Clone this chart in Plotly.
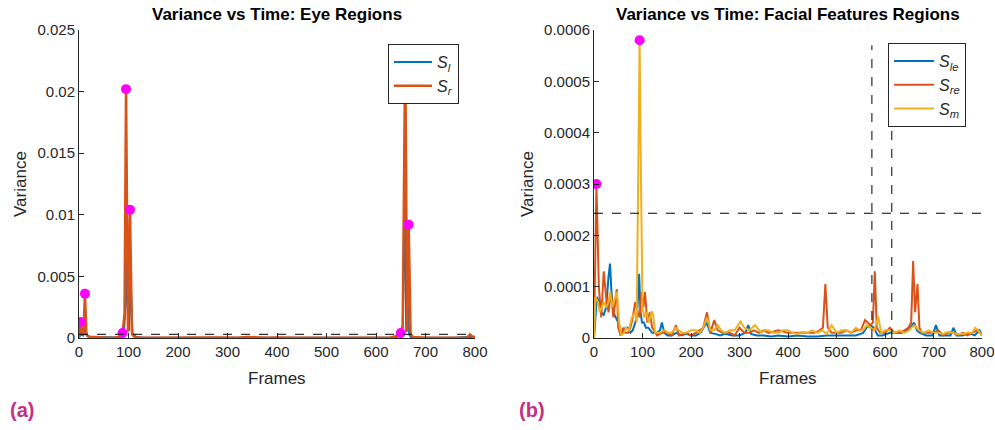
import plotly.graph_objects as go

# ---------------- data ----------------
# Panel (a): eye regions
eye_l_frames = [0, 4, 8, 12, 16, 22, 30, 45, 60, 80, 90, 95, 98, 101, 104, 108, 115, 130, 160, 200, 250, 300,
                340, 400, 450, 500, 550, 600, 640, 648, 654, 658, 661, 664, 667, 670, 676, 690, 720, 760, 790, 800]
eye_l_values = [0.00005, 0.0003, 0.0002, 0.0008, 0.0002, 0.0001, 0.00008, 0.00005, 0.00003, 0.00004, 0.0001,
                0.003, 0.008, 0.0006, 0.005, 0.0004, 0.00008, 0.00003, 0.00002, 0.00002, 0.00003, 0.00002,
                0.00006, 0.00002, 0.00002, 0.00002, 0.00003, 0.00002, 0.00004, 0.0002, 0.0008, 0.012, 0.0005,
                0.004, 0.0003, 0.0001, 0.00005, 0.00003, 0.00002, 0.00002, 0.0001, 0.00003]

eye_r_frames = [0, 3, 6, 9, 12, 15, 19, 25, 35, 50, 70, 85, 88, 92, 95, 99, 103, 107, 112, 120, 140, 170, 200,
                240, 280, 320, 340, 380, 400, 440, 480, 520, 560, 600, 630, 640, 645, 650, 654, 659, 663, 666,
                670, 675, 685, 700, 730, 760, 785, 790, 795, 800]
eye_r_values = [0.0001, 0.0013, 0.0003, 0.0003, 0.0036, 0.0003, 0.0001, 0.00008, 0.00006, 0.00004, 0.00003,
                0.0001, 0.0004, 0.002, 0.0202, 0.0005, 0.0104, 0.0003, 0.0001, 0.00005, 0.00003, 0.00004,
                0.00003, 0.00003, 0.00004, 0.00002, 0.00008, 0.00003, 0.00005, 0.00002, 0.00003, 0.00002,
                0.00003, 0.00004, 0.00005, 0.00015, 0.0002, 0.0004, 0.001, 0.0235, 0.0005, 0.0092, 0.0003,
                0.00008, 0.00004, 0.00003, 0.00002, 0.00002, 0.00005, 0.0003, 0.0001, 0.0001]

eye_peak_frames = [3, 12, 88, 95, 103, 650, 666]
eye_peak_values = [0.0013, 0.0036, 0.0004, 0.0202, 0.0104, 0.0004, 0.0092]
eye_threshold = 0.0003

# Panel (b): facial feature regions (values in units of 1e-5)
unit = 1e-5
le_frames = [0, 3, 6, 10, 15, 20, 25, 30, 33, 36, 40, 45, 50, 55, 60, 65, 70, 75, 80, 85, 88, 91, 93, 96, 99,
             103, 107, 112, 120, 130, 136, 140, 145, 152, 160, 170, 180, 190, 200, 210, 220, 232, 240, 250,
             260, 270, 285, 300, 312, 318, 324, 335, 350, 365, 380, 400, 420, 440, 460, 480, 500, 520, 540,
             555, 562, 570, 577, 585, 595, 610, 620, 635, 645, 652, 660, 666, 672, 685, 698, 705, 712, 725,
             735, 741, 748, 760, 772, 785, 795, 800]
le_values = [0, 5, 8, 7, 5, 4.5, 6, 12, 14.5, 9, 5, 4, 3, 0.5, 1, 2, 2, 1, 1.5, 3, 4, 8, 12.5, 5, 3, 3, 2,
             2, 1, 1, 1.5, 3, 1, 0.5, 0.5, 1, 0.5, 0.8, 0.5, 0.5, 1, 3, 1, 0.8, 0.5, 0.8, 0.5, 0.5, 1, 2.5,
             0.8, 0.5, 0.5, 0.3, 0.5, 0.3, 0.5, 0.3, 0.3, 0.5, 0.5, 0.5, 0.5, 1, 2, 2.5, 2, 0.5, 0.5, 1, 1,
             1, 1.5, 2, 3, 1.5, 1, 0.5, 0.5, 2.5, 0.5, 0.5, 0.5, 2, 0.5, 0.5, 1, 0.5, 1.5, 0.5]

re_frames = [0, 5, 10, 15, 20, 25, 30, 35, 40, 47, 50, 55, 60, 65, 70, 75, 80, 85, 90, 94, 98, 102, 105, 110,
             115, 120, 130, 140, 150, 160, 169, 175, 190, 200, 210, 225, 233, 240, 248, 255, 265, 280, 290,
             300, 310, 320, 330, 340, 350, 360, 380, 400, 420, 440, 455, 465, 472, 477, 482, 490, 500, 510,
             520, 530, 540, 550, 559, 565, 570, 575, 579, 583, 590, 600, 610, 620, 630, 640, 648, 654, 658,
             662, 667, 671, 676, 685, 700, 710, 720, 730, 740, 750, 760, 770, 780, 790, 800]
re_values = [0, 30, 10, 4, 13, 8, 5, 9, 4, 9.5, 2, 0.5, 2, 1, 1, 2, 4, 7, 5, 4, 9, 6, 9, 3, 5, 2, 0.5, 1, 1,
             0.5, 2.5, 0.5, 1, 0.5, 1, 2, 5, 1, 3.5, 1.5, 1, 1, 0.5, 2, 1, 1, 1.5, 1, 1.5, 1, 1.5, 1, 1, 1,
             1, 1.5, 2, 10.5, 2, 1, 1, 1, 1.5, 1, 1.5, 1.5, 3.5, 3, 2.5, 3, 13, 2, 1, 1, 2, 1, 1, 1.5, 2,
             3, 15, 5, 10.5, 2, 1, 1, 1, 1.5, 0.5, 1, 1, 0.5, 1, 0.5, 1, 1.5, 0.5]

m_frames = [0, 3, 8, 12, 16, 20, 25, 30, 33, 38, 44, 47, 52, 56, 62, 66, 72, 78, 85, 88, 91, 94, 97, 100,
            104, 108, 113, 119, 122, 126, 135, 145, 152, 160, 168, 175, 182, 190, 200, 210, 218, 225, 233,
            240, 248, 255, 262, 270, 280, 290, 302, 310, 320, 332, 345, 352, 360, 370, 380, 390, 400, 410,
            420, 430, 440, 450, 460, 470, 480, 490, 500, 510, 520, 530, 540, 548, 555, 562, 570, 578, 586,
            592, 600, 610, 620, 630, 640, 650, 660, 670, 680, 690, 700, 710, 720, 730, 740, 750, 760, 770,
            780, 786, 792, 800]
m_values = [0, 8, 7, 5, 6, 7, 6, 7, 9, 6, 8, 9, 3, 0.5, 1, 2, 1.5, 4, 5, 3, 30, 58, 30, 6, 4, 5, 3, 5.2, 4.5,
            1, 1, 1.5, 1, 1, 2, 1.5, 1, 1, 1.5, 1.5, 1, 2, 4, 1.5, 1.5, 2.5, 1.5, 1, 1.5, 1.5, 3.2, 2, 1.5,
            2.5, 1, 1.5, 1.5, 1, 1, 1.5, 1.5, 1, 0.8, 1.2, 1, 1.5, 1, 1.5, 0.8, 2.5, 1, 1.5, 1.5, 1, 2,
            1.5, 1.5, 2.5, 2, 1.5, 4.2, 1, 1.5, 1.5, 1, 1.5, 1, 1.5, 2.5, 1.5, 1, 1.5, 1, 1, 0.8, 1.2, 1,
            0.8, 0.8, 1, 1, 2, 1.5, 0.5]

face_peak_frames = [5, 94]
face_peak_values = [30, 58]
face_threshold = 24.3
face_vlines = [573, 614]
face_vline_top = 57

# tick labels
eye_ytick_vals = [0, 0.005, 0.01, 0.015, 0.02, 0.025]
eye_ytick_text = ["0", "0.005", "0.01", "0.015", "0.02", "0.025"]
face_ytick_vals = [0, 0.0001, 0.0002, 0.0003, 0.0004, 0.0005, 0.0006]
face_ytick_text = ["0", "0.0001", "0.0002", "0.0003", "0.0004", "0.0005", "0.0006"]
xtick_vals = [0, 100, 200, 300, 400, 500, 600, 700, 800]

# ---------------- styling ----------------
BLUE = "#0072BD"
ORANGE = "#D95319"
YELLOW = "#EDB120"
MAGENTA = "#FF00FF"
AXC = "#262626"
FONT = "Liberation Sans, Arial, sans-serif"

W, H = 995, 430
def px_x(p):
    return p / W
def px_y(p):
    return 1 - p / H

fig = go.Figure()

fig.add_trace(go.Scatter(x=eye_l_frames, y=eye_l_values, mode="lines", line=dict(color=BLUE, width=2),
                         name="<i>S</i><sub><i>l</i></sub>", xaxis="x", yaxis="y", legend="legend"))
fig.add_trace(go.Scatter(x=eye_r_frames, y=eye_r_values, mode="lines", line=dict(color=ORANGE, width=2.5),
                         name="<i>S</i><sub><i>r</i></sub>", xaxis="x", yaxis="y", legend="legend"))
fig.add_trace(go.Scatter(x=eye_peak_frames, y=eye_peak_values, mode="markers",
                         marker=dict(color=MAGENTA, size=10), showlegend=False, xaxis="x", yaxis="y"))

fig.add_trace(go.Scatter(x=le_frames, y=[v * unit for v in le_values], mode="lines",
                         line=dict(color=BLUE, width=2), name="<i>S</i><sub><i>le</i></sub>",
                         xaxis="x2", yaxis="y2", legend="legend2"))
fig.add_trace(go.Scatter(x=re_frames, y=[v * unit for v in re_values], mode="lines",
                         line=dict(color=ORANGE, width=2), name="<i>S</i><sub><i>re</i></sub>",
                         xaxis="x2", yaxis="y2", legend="legend2"))
fig.add_trace(go.Scatter(x=m_frames, y=[v * unit for v in m_values], mode="lines",
                         line=dict(color=YELLOW, width=2), name="<i>S</i><sub><i>m</i></sub>",
                         xaxis="x2", yaxis="y2", legend="legend2"))
fig.add_trace(go.Scatter(x=face_peak_frames, y=[v * unit for v in face_peak_values], mode="markers",
                         marker=dict(color=MAGENTA, size=10), showlegend=False, xaxis="x2", yaxis="y2"))

shapes = [
    dict(type="line", xref="x", yref="y", x0=0, x1=800, y0=eye_threshold, y1=eye_threshold,
         line=dict(color="black", width=1, dash="dash")),
    dict(type="line", xref="x2", yref="y2", x0=0, x1=800, y0=face_threshold * unit, y1=face_threshold * unit,
         line=dict(color="black", width=1, dash="dash")),
]
for vx in face_vlines:
    shapes.append(dict(type="line", xref="x2", yref="y2", x0=vx, x1=vx, y0=0, y1=face_vline_top * unit,
                       line=dict(color="black", width=1, dash="dash")))

axis_common = dict(showline=True, linecolor=AXC, linewidth=1, ticks="inside", ticklen=5, tickcolor=AXC,
                   showgrid=False, zeroline=False, tickfont=dict(size=15, color=AXC, family=FONT),
                   mirror=False, automargin=False)

y_dom = [px_y(338), px_y(30)]

def ann(text, x, y, size, color=AXC, xanchor="center", angle=0):
    return dict(text=text, x=px_x(x), y=px_y(y), xref="paper", yref="paper", showarrow=False,
                font=dict(size=size, color=color, family=FONT), xanchor=xanchor, yanchor="middle",
                textangle=angle)

fig.update_layout(
    width=W, height=H, margin=dict(l=0, r=0, t=0, b=0, autoexpand=False),
    paper_bgcolor="white", plot_bgcolor="white",
    font=dict(family=FONT, color=AXC),
    xaxis=dict(domain=[px_x(79), px_x(475)], range=[0, 800], tickvals=xtick_vals, anchor="y", **axis_common),
    yaxis=dict(domain=y_dom, range=[0, 0.025], tickvals=eye_ytick_vals, ticktext=eye_ytick_text, anchor="x",
               **axis_common),
    xaxis2=dict(domain=[px_x(594), px_x(982)], range=[0, 800], tickvals=xtick_vals, anchor="y2", **axis_common),
    yaxis2=dict(domain=y_dom, range=[0, 0.0006], tickvals=face_ytick_vals, ticktext=face_ytick_text,
                anchor="x2", **axis_common),
    legend=dict(x=px_x(459), y=px_y(44), xanchor="right", yanchor="top", bgcolor="white",
                bordercolor="#262626", borderwidth=1, font=dict(size=16, color=AXC, family=FONT),
                tracegroupgap=0, itemwidth=38),
    legend2=dict(x=px_x(966), y=px_y(43), xanchor="right", yanchor="top", bgcolor="white",
                 bordercolor="#262626", borderwidth=1, font=dict(size=16, color=AXC, family=FONT),
                 tracegroupgap=0, itemwidth=40),
    shapes=shapes,
    showlegend=True,
    annotations=[
        ann("<b>Variance vs Time: Eye Regions</b>", 277, 15, 17, color="black"),
        ann("<b>Variance vs Time: Facial Features Regions</b>", 788, 15, 17, color="black"),
        ann("Variance", 20, 184, 17, angle=-90),
        ann("Variance", 527, 184, 17, angle=-90),
        ann("Frames", 277, 378, 17),
        ann("Frames", 788, 378, 17),
        ann("<b>(a)</b>", 8, 410, 20, color="#C52E85", xanchor="left"),
        ann("<b>(b)</b>", 517, 410, 20, color="#C52E85", xanchor="left"),
    ],
)

# remove the default page margin so the 995x430 figure fills the window exactly
fig.write_html("out.html", config={"displayModeBar": False},
               post_script="document.body.style.margin='0px'; document.body.style.overflow='hidden';")
